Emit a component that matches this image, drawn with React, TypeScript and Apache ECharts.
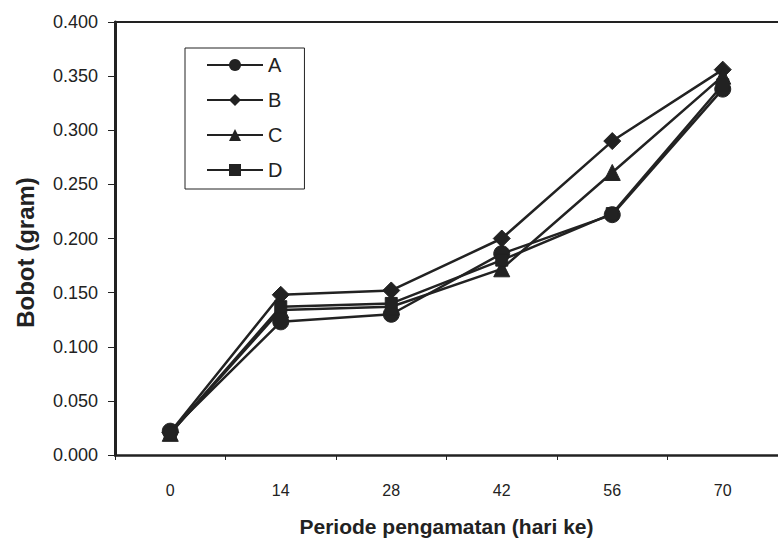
import React, { useEffect, useRef } from "react";
import * as echarts from "echarts";

const categories = ["0", "14", "28", "42", "56", "70"];
const seriesA = [0.022, 0.123, 0.13, 0.186, 0.222, 0.338];
const seriesB = [0.021, 0.148, 0.152, 0.2, 0.29, 0.356];
const seriesC = [0.02, 0.134, 0.137, 0.172, 0.261, 0.35];
const seriesD = [0.02, 0.137, 0.14, 0.18, 0.223, 0.342];
const yTicks = { min: 0, max: 0.4, interval: 0.05 };

const FONT = "Arial, 'Liberation Sans', sans-serif";
const INK = "#222";

export default function App() {
  const ref = useRef<HTMLDivElement>(null);
  useEffect(() => {
    if (!ref.current) return;
    const chart = echarts.init(ref.current, undefined, { renderer: "svg" });
    const mk = (name: string, data: number[], symbol: string, size: number) => ({
      name,
      type: "line",
      data,
      symbol,
      symbolSize: size,
      lineStyle: { color: INK, width: 2.5 },
      itemStyle: { color: INK, borderColor: INK },
    });
    chart.setOption({
      animation: false,
      backgroundColor: "#fff",
      textStyle: { fontFamily: FONT },
      grid: { left: 115, right: -8, top: 22, bottom: 88 },
      legend: {
        orient: "vertical",
        left: 185,
        top: 48,
        data: ["A", "B", "C", "D"],
        itemWidth: 56,
        itemHeight: 15,
        itemGap: 15,
        padding: [7, 22, 9, 21],
        borderColor: INK,
        borderWidth: 1,
        textStyle: { fontFamily: FONT, fontSize: 20, color: INK },
      },
      xAxis: [
        {
          type: "category",
          data: categories,
          boundaryGap: true,
          axisLine: { lineStyle: { color: INK, width: 2.5 } },
          axisTick: { show: true, length: 5, lineStyle: { color: INK } },
          axisLabel: { fontFamily: FONT, fontSize: 16, color: INK, margin: 27 },
          name: "Periode pengamatan (hari ke)",
          nameLocation: "middle",
          nameGap: 61,
          nameTextStyle: { fontFamily: FONT, fontSize: 21, fontWeight: "bold", color: INK },
        },
        {
          type: "category",
          data: categories,
          position: "top",
          axisLine: { show: true, lineStyle: { color: INK, width: 2 } },
          axisTick: { show: false },
          axisLabel: { show: false },
        },
      ],
      yAxis: {
        type: "value",
        min: yTicks.min,
        max: yTicks.max,
        interval: yTicks.interval,
        axisLine: { show: true, lineStyle: { color: INK, width: 3 } },
        axisTick: { show: true, length: 7, lineStyle: { color: INK } },
        splitLine: { show: false },
        axisLabel: {
          fontFamily: FONT,
          fontSize: 18,
          color: INK,
          margin: 17,
          formatter: (v: number) => v.toFixed(3),
        },
        name: "Bobot (gram)",
        nameLocation: "middle",
        nameGap: 78,
        nameTextStyle: {
          fontFamily: FONT,
          fontSize: 24,
          fontWeight: "bold",
          color: INK,
          padding: [0, 28, 0, 0],
        },
      },
      series: [
        mk("A", seriesA, "circle", 16),
        mk("B", seriesB, "diamond", 17),
        mk("C", seriesC, "triangle", 16),
        mk("D", seriesD, "rect", 12),
      ],
    });
    return () => chart.dispose();
  }, []);
  return (
    <div
      ref={ref}
      style={{ position: "absolute", left: 0, top: 0, width: 778, height: 543 }}
    />
  );
}
